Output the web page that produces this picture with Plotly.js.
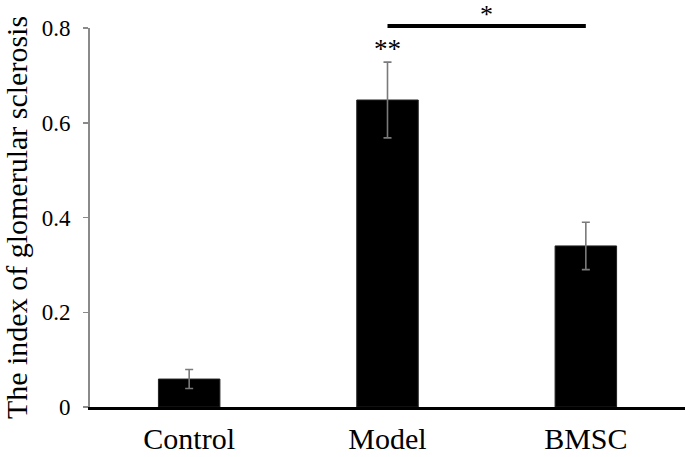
<!DOCTYPE html>
<html>
<head>
<meta charset="utf-8">
<script src="https://cdn.plot.ly/plotly-3.0.1.min.js"></script>
<style>html,body{margin:0;padding:0;background:#fff;}#chart{width:685px;height:457px;}</style>
</head>
<body>
<div id="chart"></div>
<script>
const categories = ["Control", "Model", "BMSC"];
const values = [0.059, 0.648, 0.340];
const errors = [0.020, 0.080, 0.050];
const yTicks = [0, 0.2, 0.4, 0.6, 0.8];
const yTickLabels = ["0", "0.2", "0.4", "0.6", "0.8"];
const sigModelLabel = "**";
const sigPairLabel = "*";
const sigPair = ["Model", "BMSC"];

const serif = "'Liberation Serif', 'Times New Roman', serif";

const trace = {
  type: "bar",
  x: categories,
  y: values,
  marker: {color: "#000000", line: {color: "#222", width: 1}},
  error_y: {type: "data", array: errors, visible: true, color: "#7a7a7a", thickness: 1.6, width: 4},
  hoverinfo: "none"
};

const layout = {
  width: 685,
  height: 457,
  margin: {l: 90, r: 0, t: 28, b: 50},
  paper_bgcolor: "#ffffff",
  plot_bgcolor: "#ffffff",
  showlegend: false,
  bargap: 0.69,
  font: {family: serif, color: "#000"},
  xaxis: {
    type: "category",
    showline: true,
    linecolor: "#000",
    linewidth: 3,
    ticks: "",
    showgrid: false,
    zeroline: false,
    tickfont: {family: serif, size: 30, color: "#000"},
    ticklabelstandoff: 3
  },
  yaxis: {
    range: [0, 0.8],
    tickvals: yTicks,
    ticktext: yTickLabels,
    showline: true,
    linecolor: "#8a8a8a",
    linewidth: 2,
    ticks: "outside",
    ticklen: 5,
    tickwidth: 1.5,
    tickcolor: "#8a8a8a",
    showgrid: false,
    zeroline: false,
    tickfont: {family: serif, size: 23, color: "#000"},
    ticklabelstandoff: 8,
    title: {text: "The index of glomerular sclerosis", font: {family: serif, size: 30, color: "#000"}, standoff: 10}
  },
  shapes: [{
    type: "line",
    xref: "x", yref: "paper",
    x0: sigPair[0], x1: sigPair[1],
    y0: 1.005, y1: 1.005,
    line: {color: "#000", width: 4}
  }],
  annotations: [
    {xref: "x", yref: "y", x: "Model", y: values[1] + errors[1], text: sigModelLabel, showarrow: false,
     yanchor: "bottom", yshift: -4, font: {family: serif, size: 27, color: "#000"}},
    {xref: "x", yref: "paper", x: 1.5, y: 1.005, text: sigPairLabel, showarrow: false,
     yanchor: "bottom", yshift: -5, font: {family: serif, size: 26, color: "#000"}}
  ]
};

Plotly.newPlot("chart", [trace], layout, {staticPlot: true, displayModeBar: false});
</script>
</body>
</html>
